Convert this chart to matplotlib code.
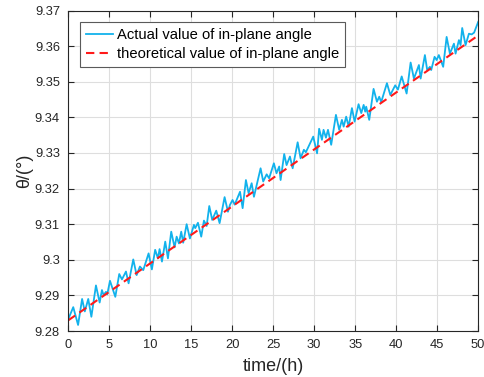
import numpy as np
import matplotlib
matplotlib.use('Agg')
import matplotlib.pyplot as plt

plt.rcParams['font.family'] = ['Liberation Sans', 'DejaVu Sans']

time_h = [0.0, 0.61, 1.2, 1.69, 2.02, 2.44, 2.82, 3.38, 3.83, 4.11, 4.31, 4.6, 4.76,
          5.09, 5.74, 6.22, 6.55, 7.04, 7.36, 7.93, 8.34, 8.74, 9.15, 9.8,
          10.2, 10.6, 10.94, 11.14, 11.43, 11.83, 12.16, 12.56, 12.97, 13.22, 13.5,
          13.78, 14.02, 14.44, 14.84, 15.33, 15.49, 15.82, 16.22, 16.55, 16.88,
          17.2, 17.56, 18.05, 18.46, 19.07, 19.48, 19.72, 20.04, 20.3, 20.95,
          21.27, 21.67, 22.0, 22.37, 22.65, 23.46, 23.78, 24.2, 24.5, 25.08,
          25.4, 25.73, 25.9, 26.34, 26.63, 27.04, 27.37, 27.98, 28.34, 28.74,
          28.98, 29.88, 30.35, 30.6, 30.94, 31.14, 31.43, 31.68, 32.07, 32.65,
          33.05, 33.38, 33.59, 33.9, 34.2, 34.6, 34.93, 35.41, 35.74, 36.03,
          36.22, 36.34, 36.71, 37.24, 37.65, 37.93, 38.17, 38.87, 39.28, 39.88,
          40.21, 40.67, 41.27, 41.76, 42.16, 42.77, 42.98, 43.5, 43.78, 44.11,
          44.27, 44.68, 44.93, 45.2, 45.73, 46.15, 46.55, 47.04, 47.24, 47.65,
          47.85, 48.05, 48.46, 48.87, 49.2, 49.5, 50.0]
actual = [9.2833, 9.2867, 9.2817, 9.2890, 9.2855, 9.2890, 9.2840, 9.2928, 9.2880, 9.2915, 9.2901, 9.2910, 9.2903,
          9.2941, 9.2896, 9.2960, 9.2945, 9.2967, 9.2934, 9.3001, 9.2957, 9.2981, 9.2971, 9.3018,
          9.2973, 9.3028, 9.3004, 9.3030, 9.2995, 9.3051, 9.3004, 9.3079, 9.3035, 9.3065, 9.3046,
          9.3079, 9.3048, 9.3100, 9.3060, 9.3098, 9.3089, 9.3104, 9.3065, 9.3110, 9.3095,
          9.3151, 9.3112, 9.3138, 9.3103, 9.3176, 9.3135, 9.3154, 9.3168, 9.3155, 9.3191,
          9.3145, 9.3224, 9.3187, 9.3215, 9.3177, 9.3257, 9.3220, 9.3240, 9.3229, 9.3271,
          9.3243, 9.3262, 9.3224, 9.3297, 9.3266, 9.3290, 9.3257, 9.3330, 9.3285, 9.3309,
          9.3302, 9.3346, 9.3299, 9.3368, 9.3337, 9.3365, 9.3343, 9.3365, 9.3323, 9.3407,
          9.3365, 9.3393, 9.3374, 9.3402, 9.3374, 9.3426, 9.3388, 9.3437, 9.3412, 9.3435,
          9.3416, 9.3430, 9.3393, 9.3480, 9.3444, 9.3458, 9.3443, 9.3496, 9.3463, 9.3490,
          9.3478, 9.3515, 9.3467, 9.3554, 9.3509, 9.3547, 9.3509, 9.3575, 9.3533, 9.3542,
          9.3533, 9.3570, 9.3561, 9.3575, 9.3542, 9.3626, 9.3579, 9.3607, 9.3579, 9.3617,
          9.3603, 9.3651, 9.3603, 9.3635, 9.3633, 9.3638, 9.3668]

# theoretical angle (straight line)
theory_time = [0, 50]
theory = [9.283, 9.363]

fig = plt.figure(figsize=(4.84, 3.77), dpi=100)
ax = fig.add_axes([0.141, 0.122, 0.847, 0.850])

ax.plot(time_h, actual, color='#12B2EC', lw=1.3, solid_joinstyle='round',
        label='Actual value of in-plane angle')
ax.plot(theory_time, theory, color='#FF1A1A', lw=1.5, dashes=(4, 2.5),
        label='theoretical value of in-plane angle')

ax.set_xlim(0, 50)
ax.set_ylim(9.28, 9.37)
ax.set_xticks(np.arange(0, 51, 5))
ax.set_yticks(np.arange(9.28, 9.3701, 0.01))
ax.set_yticklabels(['9.28', '9.29', '9.3', '9.31', '9.32', '9.33', '9.34', '9.35', '9.36', '9.37'])

ax.grid(True, color='#dedede', lw=0.8)
ax.set_axisbelow(True)
ax.tick_params(direction='in', length=4, width=0.8, top=True, right=True,
               labelsize=9.3, colors='#262626', pad=6)
for s in ax.spines.values():
    s.set_color('#262626')
    s.set_linewidth(0.8)

ax.set_xlabel('time/(h)', fontsize=13, color='#262626', labelpad=5)
ax.set_ylabel('θ/(°)', fontsize=13, color='#262626', labelpad=1)

leg = ax.legend(loc='upper left', bbox_to_anchor=(0.0285, 0.965), borderaxespad=0,
                fontsize=10.6, fancybox=False, framealpha=1, edgecolor='#5a5a5a',
                handlelength=1.8, handletextpad=0.3, labelspacing=0.32, borderpad=0.42)
leg.get_frame().set_linewidth(0.8)

fig.savefig('out.png', dpi=100)
